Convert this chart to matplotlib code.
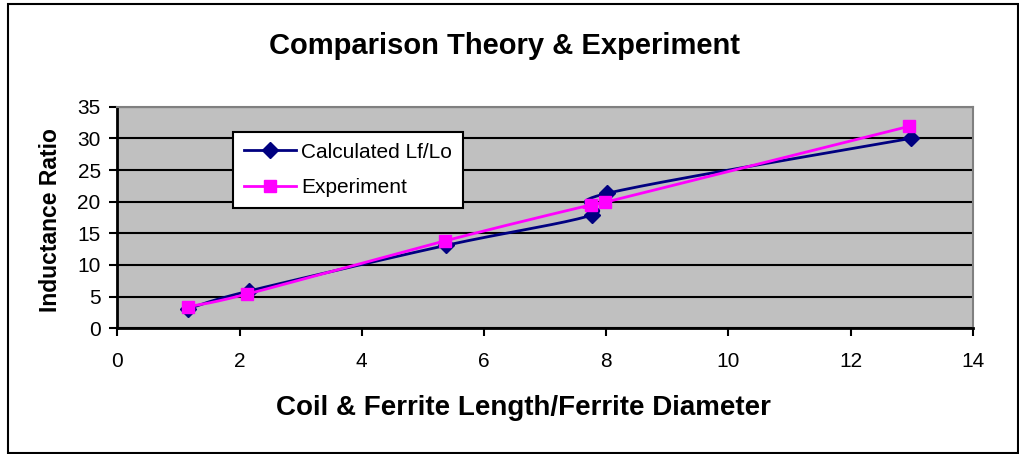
import matplotlib
matplotlib.use("Agg")
import matplotlib.pyplot as plt
import numpy as np
from matplotlib.patches import Rectangle

plt.rcParams["font.family"] = ["Liberation Sans", "DejaVu Sans"]

# ── Data ──
calc_x = [1.16, 2.16, 5.38, 7.77, 8.01, 12.99]
calc_y = [3.1, 5.9, 13.1, 17.9, 21.3, 30.0]
exp_x = [1.15, 2.12, 5.36, 7.75, 7.98, 12.96]
exp_y = [3.4, 5.4, 13.8, 19.5, 19.9, 31.9]

x_ticks = [0, 2, 4, 6, 8, 10, 12, 14]
y_ticks = [0, 5, 10, 15, 20, 25, 30, 35]


def smooth(xs, ys, n=40):
    # Excel-style smoothed line: Catmull-Rom segments as cubic Bezier
    p = np.column_stack([xs, ys]).astype(float)
    pts = [p[0]]
    for i in range(len(p) - 1):
        p0 = p[i - 1] if i > 0 else p[i]
        p3 = p[i + 2] if i + 2 < len(p) else p[i + 1]
        b0, b3 = p[i], p[i + 1]
        b1 = b0 + (b3 - p0) / 6.0
        b2 = b3 - (p3 - b0) / 6.0
        t = np.linspace(0, 1, n)[1:, None]
        seg = ((1 - t) ** 3) * b0 + 3 * ((1 - t) ** 2) * t * b1 \
            + 3 * (1 - t) * t ** 2 * b2 + t ** 3 * b3
        pts.extend(seg)
    pts = np.array(pts)
    return pts[:, 0], pts[:, 1]


W, H = 1020, 454
fig = plt.figure(figsize=(W / 100, H / 100), dpi=100)

# outer chart border
fig.patches.append(Rectangle((8 / W, 1.5 / H), 1010 / W, 449 / H,
                             transform=fig.transFigure, fill=False,
                             edgecolor="black", linewidth=1.5))

left, right, top, bottom = 117.3, 972.7, 106.7, 328.3
ax = fig.add_axes([left / W, 1 - bottom / H, (right - left) / W, (bottom - top) / H])
ax.set_facecolor("#C0C0C0")

navy = "#000080"
magenta = "#FF00FF"

sx, sy = smooth(calc_x, calc_y)
ax.plot(sx, sy, color=navy, linewidth=2, zorder=3)
ax.plot(calc_x, calc_y, linestyle="none", marker="D", markersize=8,
        color=navy, zorder=4)
ex, ey = smooth(exp_x, exp_y)
ax.plot(ex, ey, color=magenta, linewidth=2, zorder=5)
ax.plot(exp_x, exp_y, linestyle="none", marker="s", markersize=9,
        color=magenta, zorder=6)

# legend handles
h1, = ax.plot([], [], color=navy, linewidth=2, marker="D", markersize=8,
              label="Calculated Lf/Lo")
h2, = ax.plot([], [], color=magenta, linewidth=2, marker="s", markersize=8,
              label="Experiment")

ax.set_xlim(0, 14)
ax.set_ylim(0, 35)
ax.set_xticks(x_ticks)
ax.set_yticks(y_ticks)
ax.tick_params(direction="out", length=6, width=1.5, labelsize=15,
               pad=6)
ax.tick_params(axis="x", pad=11)
ax.grid(axis="y", color="black", linewidth=1.5, zorder=1)
ax.set_axisbelow(True)
for s in ["top", "right"]:
    ax.spines[s].set_color("#808080")
    ax.spines[s].set_linewidth(1.5)
for s in ["left", "bottom"]:
    ax.spines[s].set_color("black")
    ax.spines[s].set_linewidth(2)

leg = ax.legend(handles=[h1, h2], loc="upper left",
                bbox_to_anchor=(233.3 / W, 1 - 132.3 / H),
                bbox_transform=fig.transFigure, borderaxespad=0,
                fancybox=False, framealpha=1, edgecolor="black",
                fontsize=15, handlelength=2.5, borderpad=0.5,
                labelspacing=0.8, handletextpad=0.27)
leg.get_frame().set_linewidth(1.5)
leg.set_zorder(10)

fig.text(505 / W, 1 - 46 / H, "Comparison Theory & Experiment",
         ha="center", va="center", fontsize=21, fontweight="bold")
fig.text(523 / W, 1 - 408 / H, "Coil & Ferrite Length/Ferrite Diameter",
         ha="center", va="center", fontsize=20, fontweight="bold")
fig.text(51 / W, 1 - 220 / H, "Inductance Ratio", rotation=90,
         ha="center", va="center", fontsize=16.5, fontweight="bold")

fig.savefig("out.png", dpi=100)
